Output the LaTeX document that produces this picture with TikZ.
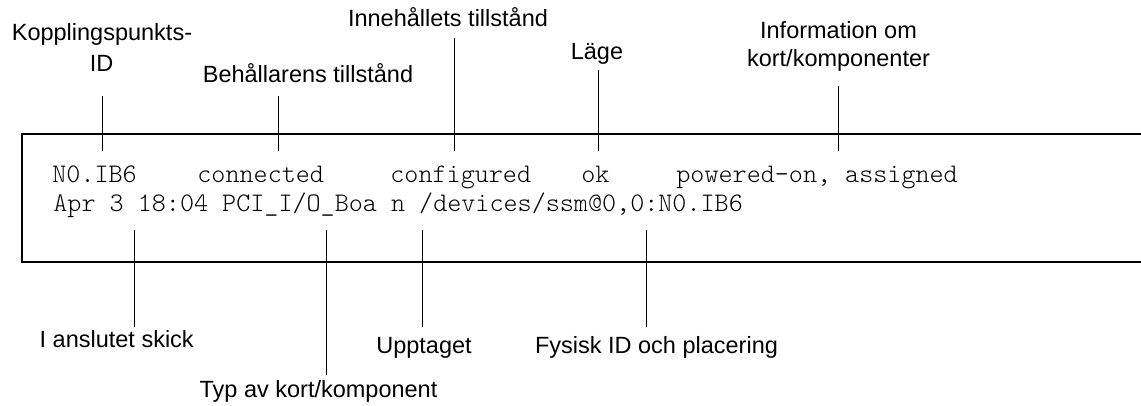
\documentclass[tikz,border=0pt]{standalone}
\usepackage{fontspec}
\setmainfont{Liberation Sans}
\setmonofont{Latin Modern Mono Light}
\usetikzlibrary{positioning}

\begin{document}
\begin{tikzpicture}[x=0.5pt,y=-0.5pt,
  lbl/.style={font=\fontsize{11.75}{14}\selectfont,inner sep=0pt,anchor=base},
  scr/.style={font=\ttfamily\fontsize{13.4}{14}\selectfont,inner sep=0pt,anchor=base west},
  tick/.style={line width=0.5pt}]
\useasboundingbox (0,0) rectangle (1141,406);

%%% SCREEN FRAME
\draw[line width=1pt] (1141,134) -- (21.5,134) -- (21.5,262) -- (1141,262);

%%% SCREEN TEXT
\node[scr] (apid) at (52,183) {N0.IB6};
\node[scr] (rstate) at (197,183) {connected};
\node[scr] (ostate) at (390,183) {configured};
\node[scr] (cond) at (581,183) {ok};
\node[scr] (info) at (676,183) {powered-on, assigned};
\node[scr] (detail) at (53,211.5) {Apr 3 18:04 PCI\_I/O\_Boa n /devices/ssm@0,0:N0.IB6};

%%% LABELS ABOVE
\node[lbl] (cpid) at (102,40.7) {Kopplingspunkts-};
\node[lbl] (cpidb) at (101.5,71.7) {ID};
\node[lbl] (rcp) at (308,83) {Behållarens tillstånd};
\node[lbl] (occ) at (448,26.7) {Innehållets tillstånd};
\node[lbl] (cnd) at (597,60) {Läge};
\node[lbl] (inf) at (838.5,38.3) {Information om};
\node[lbl] (infb) at (838.5,66.7) {kort/komponenter};

%%% LABELS BELOW
\node[lbl] (att) at (116.7,348) {I anslutet skick};
\node[lbl] (typ) at (318.5,397) {Typ av kort/komponent};
\node[lbl] (bsy) at (424,354) {Upptaget};
\node[lbl] (phy) at (656.5,354) {Fysisk ID och placering};

%%% TICKS
\coordinate (cpidT) at (102,96);    \coordinate (cpidE) at (102,150.7);
\coordinate (rcpT) at (278.3,96);   \coordinate (rcpE) at (278.3,150.7);
\coordinate (occT) at (454,38);     \coordinate (occE) at (454,150.7);
\coordinate (cndT) at (598.3,70);   \coordinate (cndE) at (598.3,150.7);
\coordinate (infT) at (838.3,86);   \coordinate (infE) at (838.3,150.7);
\coordinate (attS) at (134.3,230);  \coordinate (attE) at (134.3,326.7);
\coordinate (typS) at (326.3,230);  \coordinate (typE) at (326.3,375);
\coordinate (bsyS) at (422.3,230);  \coordinate (bsyE) at (422.3,326.7);
\coordinate (phyS) at (646,230);    \coordinate (phyE) at (646,326.7);

\draw[tick] (cpidT) -- (cpidE);
\draw[tick] (rcpT) -- (rcpE);
\draw[tick] (occT) -- (occE);
\draw[tick] (cndT) -- (cndE);
\draw[tick] (infT) -- (infE);
\draw[tick] (attS) -- (attE);
\draw[tick] (typS) -- (typE);
\draw[tick] (bsyS) -- (bsyE);
\draw[tick] (phyS) -- (phyE);

\end{tikzpicture}
\end{document}
